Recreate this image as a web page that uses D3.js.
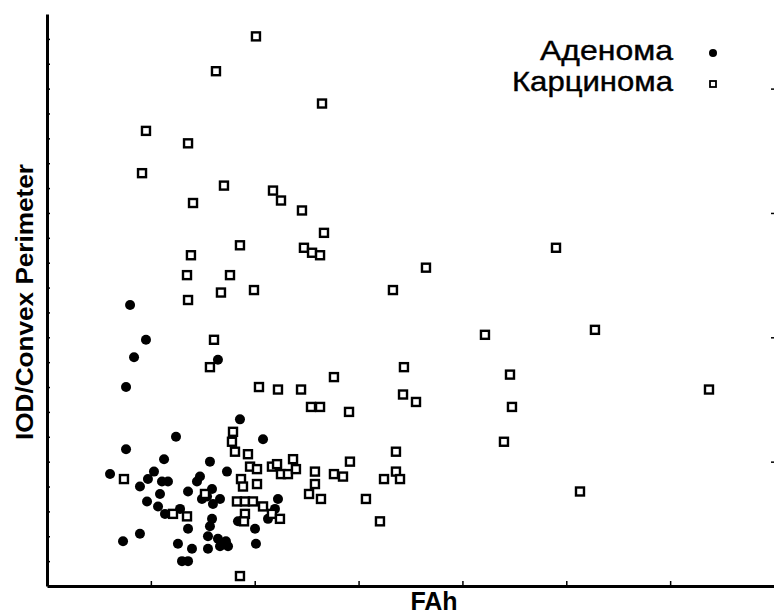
<!DOCTYPE html>
<html>
<head>
<meta charset="utf-8">
<script src="https://cdn.jsdelivr.net/npm/d3@7"></script>
<style>
  body { margin: 0; background: #fff; }
  text { font-family: "Liberation Sans", Arial, sans-serif; fill: #000; }
</style>
</head>
<body>
<svg id="chart" width="774" height="615"></svg>
<script>
// Аденома (filled dots)
const adenomaX = [8.0, 9.53, 8.38, 16.46, 7.61, 18.58, 12.42, 20.80, 7.61, 11.27,
  15.69, 6.07, 10.30, 17.33, 9.72, 11.07, 11.65, 8.95, 14.44, 14.73,
  10.88, 13.58, 9.63, 15.41, 16.66, 14.92, 15.98, 10.69, 12.81, 11.36,
  15.89, 15.69, 13.58, 8.95, 7.32, 12.61, 13.96, 13.00, 13.58, 15.50,
  15.50, 16.46, 17.23, 16.66, 17.43, 18.39, 20.03, 20.12, 22.24, 21.95,
  21.28, 15.89];
const adenomaY = [1.13, 0.99, 0.92, 0.91, 0.80, 0.67, 0.60, 0.59, 0.55, 0.51,
  0.50, 0.45, 0.46, 0.46, 0.43, 0.42, 0.42, 0.40, 0.42, 0.44,
  0.37, 0.38, 0.34, 0.36, 0.35, 0.35, 0.33, 0.32, 0.31, 0.29,
  0.27, 0.24, 0.23, 0.21, 0.18, 0.17, 0.15, 0.10, 0.10, 0.20,
  0.15, 0.19, 0.18, 0.16, 0.16, 0.26, 0.23, 0.17, 0.35, 0.31,
  0.27, 0.39];

// Карцинома (open squares)
const carcinomaX = [20.12, 16.27, 26.48, 9.53, 13.58, 9.15, 17.04, 14.06, 21.76, 22.53,
  24.55, 18.58, 13.86, 26.67, 24.74, 25.52, 26.29, 17.62, 13.48, 36.49,
  49.01, 13.58, 16.75, 19.93, 33.31, 16.08, 52.76, 42.17, 15.69, 34.37,
  44.58, 20.41, 22.24, 24.46, 27.63, 34.28, 35.53, 25.42, 26.29, 29.08,
  44.77, 63.74, 44.00, 33.60, 51.32, 7.41, 30.71, 32.06, 18.58,
  17.91, 17.81, 18.10, 19.35, 19.55, 20.22, 21.66, 22.15, 22.53, 23.20,
  23.69, 23.97, 18.68, 18.87, 20.22, 15.21, 18.29, 19.06, 19.83, 12.13,
  13.48, 19.06, 18.97, 20.80, 21.66, 22.43, 25.80, 25.80, 25.23, 26.38,
  29.17, 27.63, 28.50, 33.60, 32.45, 33.99];
const carcinomaY = [2.21, 2.07, 1.94, 1.83, 1.78, 1.66, 1.61, 1.54, 1.59, 1.55,
  1.51, 1.37, 1.33, 1.42, 1.36, 1.34, 1.33, 1.25, 1.25, 1.28,
  1.36, 1.15, 1.18, 1.19, 1.19, 0.99, 1.03, 1.01, 0.88, 0.88,
  0.85, 0.80, 0.79, 0.79, 0.84, 0.77, 0.74, 0.72, 0.72, 0.70,
  0.72, 0.79, 0.58, 0.54, 0.38, 0.43, 0.35, 0.26, 0.04,
  0.62, 0.58, 0.54, 0.53, 0.48, 0.47, 0.48, 0.49, 0.45, 0.45,
  0.51, 0.47, 0.43, 0.40, 0.41, 0.37, 0.34, 0.34, 0.34, 0.29,
  0.28, 0.29, 0.26, 0.32, 0.29, 0.27, 0.46, 0.41, 0.37, 0.35,
  0.50, 0.45, 0.44, 0.46, 0.43, 0.43];

const seriesNames = ["Аденома", "Карцинома"];
const xTicks = [10, 20, 30, 40, 50, 60];
const yMinorTicks = d3.range(1, 23).map(d => d / 10);
const yRightTicks = [0.5, 1.0, 1.5, 2.0];

const svg = d3.select("#chart");
const plotLeft = 47, plotRight = 774, plotTop = 14, plotBottom = 586;

const x = d3.scaleLinear().domain([0, 70]).range([plotLeft, plotRight]);
const y = d3.scaleLinear().domain([0, 2.3]).range([plotBottom, plotTop]);

// left axis with inward ticks
const yAxis = svg.append("g")
  .attr("transform", `translate(${plotLeft},0)`)
  .call(d3.axisLeft(y).tickValues(yMinorTicks).tickSize(-3).tickSizeOuter(0).tickFormat(""));
yAxis.select(".domain").attr("stroke-width", 3);
yAxis.selectAll(".tick line").attr("stroke-width", 1.5);

// right axis, almost outside the window
const yRight = svg.append("g")
  .attr("transform", `translate(${plotRight},0)`)
  .call(d3.axisRight(y).tickValues(yRightTicks).tickSize(-3).tickSizeOuter(0).tickFormat(""));
yRight.select(".domain").remove();
yRight.selectAll(".tick line").attr("stroke-width", 1.5);

// bottom axis
const xAxis = svg.append("g")
  .attr("transform", `translate(0,${plotBottom})`)
  .call(d3.axisBottom(x).tickValues(xTicks).tickSize(-5).tickSizeOuter(0).tickFormat(""));
xAxis.select(".domain").attr("stroke-width", 3);
xAxis.selectAll(".tick line").attr("stroke-width", 1.5);

// points
svg.append("g").selectAll("circle")
  .data(adenomaX.map((v, i) => [v, adenomaY[i]]))
  .join("circle")
  .attr("cx", d => x(d[0]))
  .attr("cy", d => y(d[1]))
  .attr("r", 5)
  .attr("fill", "#000");

svg.append("g").selectAll("rect")
  .data(carcinomaX.map((v, i) => [v, carcinomaY[i]]))
  .join("rect")
  .attr("x", d => x(d[0]) - 4)
  .attr("y", d => y(d[1]) - 4)
  .attr("width", 8)
  .attr("height", 8)
  .attr("fill", "#fff")
  .attr("stroke", "#000")
  .attr("stroke-width", 2.4);

// legend
const legend = svg.append("g");
legend.append("text").attr("x", 673).attr("y", 60)
  .attr("text-anchor", "end").attr("font-size", 28)
  .attr("stroke", "#000").attr("stroke-width", 0.4)
  .attr("textLength", 133).attr("lengthAdjust", "spacingAndGlyphs")
  .text(seriesNames[0]);
legend.append("text").attr("x", 673).attr("y", 91)
  .attr("text-anchor", "end").attr("font-size", 28)
  .attr("stroke", "#000").attr("stroke-width", 0.4)
  .attr("textLength", 161).attr("lengthAdjust", "spacingAndGlyphs")
  .text(seriesNames[1]);
legend.append("circle").attr("cx", 713).attr("cy", 53).attr("r", 4).attr("fill", "#000");
legend.append("rect").attr("x", 710).attr("y", 81).attr("width", 6).attr("height", 6)
  .attr("fill", "#fff").attr("stroke", "#000").attr("stroke-width", 1.8);

// axis titles
svg.append("text")
  .attr("transform", "translate(33,302) rotate(-90)")
  .attr("text-anchor", "middle").attr("font-size", 23).attr("font-weight", "bold")
  .attr("textLength", 276).attr("lengthAdjust", "spacingAndGlyphs")
  .text("IOD/Convex Perimeter");

svg.append("text")
  .attr("x", 434).attr("y", 610)
  .attr("text-anchor", "middle").attr("font-size", 25).attr("font-weight", "bold")
  .text("FAh");
</script>
</body>
</html>
